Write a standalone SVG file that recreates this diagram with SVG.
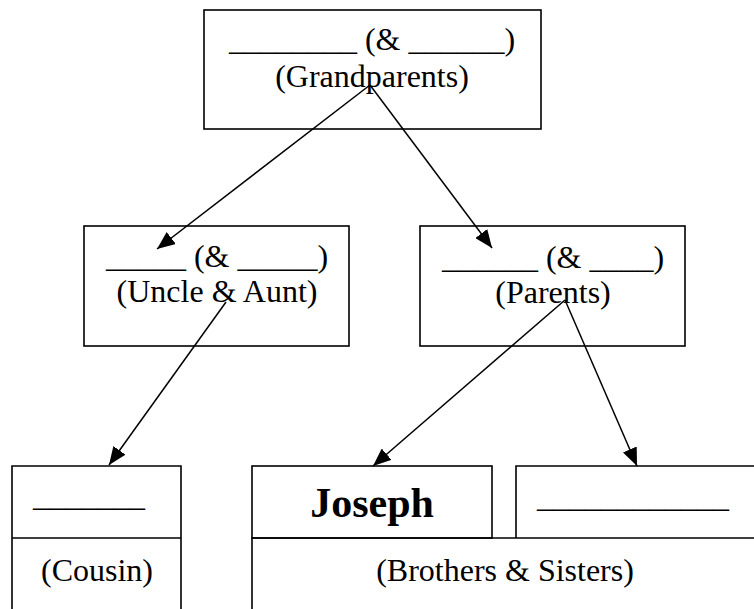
<svg xmlns="http://www.w3.org/2000/svg" width="754" height="609" viewBox="0 0 754 609">
<defs>
<style>
.box{fill:none;stroke:#000;stroke-width:1.6}
.t{font-family:"Liberation Serif","Times New Roman",serif;font-size:32px;fill:#000}
.c{text-anchor:middle}
.b{font-weight:bold;font-size:42px}
.con{stroke:#000;stroke-width:1.5;fill:none;marker-end:url(#ah)}
</style>
<marker id="ah" markerUnits="userSpaceOnUse" markerWidth="19" markerHeight="15" refX="18" refY="7.5" orient="auto">
<path d="M0,0 L18,7.5 L0,15 Z" fill="#000"/>
</marker>
</defs>
<rect width="754" height="609" fill="#fff"/>
<g id="grandparents">
<rect class="box" x="204" y="10" width="337" height="119"/>
<text class="t c" x="372" y="50">________ (&amp; ______)</text>
<text class="t c" x="372" y="87">(Grandparents)</text>
</g>
<g id="uncle-aunt">
<rect class="box" x="84" y="226" width="265" height="120"/>
<text class="t c" x="217" y="267">_____ (&amp; _____)</text>
<text class="t c" x="217" y="302">(Uncle &amp; Aunt)</text>
</g>
<g id="parents">
<rect class="box" x="420" y="226" width="265" height="120"/>
<text class="t c" x="553" y="268">______ (&amp; ____)</text>
<text class="t c" x="553" y="303">(Parents)</text>
</g>
<g id="cousin">
<path class="box" d="M12,609 V466 H181 V609 M12,538 H181"/>
<text class="t" x="33" y="506">_______</text>
<text class="t c" x="97" y="581">(Cousin)</text>
</g>
<g id="joseph">
<rect class="box" x="252" y="466" width="240" height="72"/>
<text class="t c b" x="372" y="517">Joseph</text>
</g>
<g id="sibling">
<path class="box" d="M516,538 V466 H760"/>
<text class="t" x="537" y="507">____________</text>
</g>
<g id="brothers-sisters">
<path class="box" d="M252,609 V538 H760"/>
<text class="t c" x="505" y="581">(Brothers &amp; Sisters)</text>
</g>
<g id="connectors">
<line class="con" x1="370" y1="85" x2="157" y2="249"/>
<line class="con" x1="370" y1="85" x2="492" y2="248"/>
<line class="con" x1="226" y1="302" x2="109" y2="465"/>
<line class="con" x1="565" y1="300" x2="373" y2="466"/>
<line class="con" x1="565" y1="300" x2="637" y2="466"/>
</g>
</svg>
